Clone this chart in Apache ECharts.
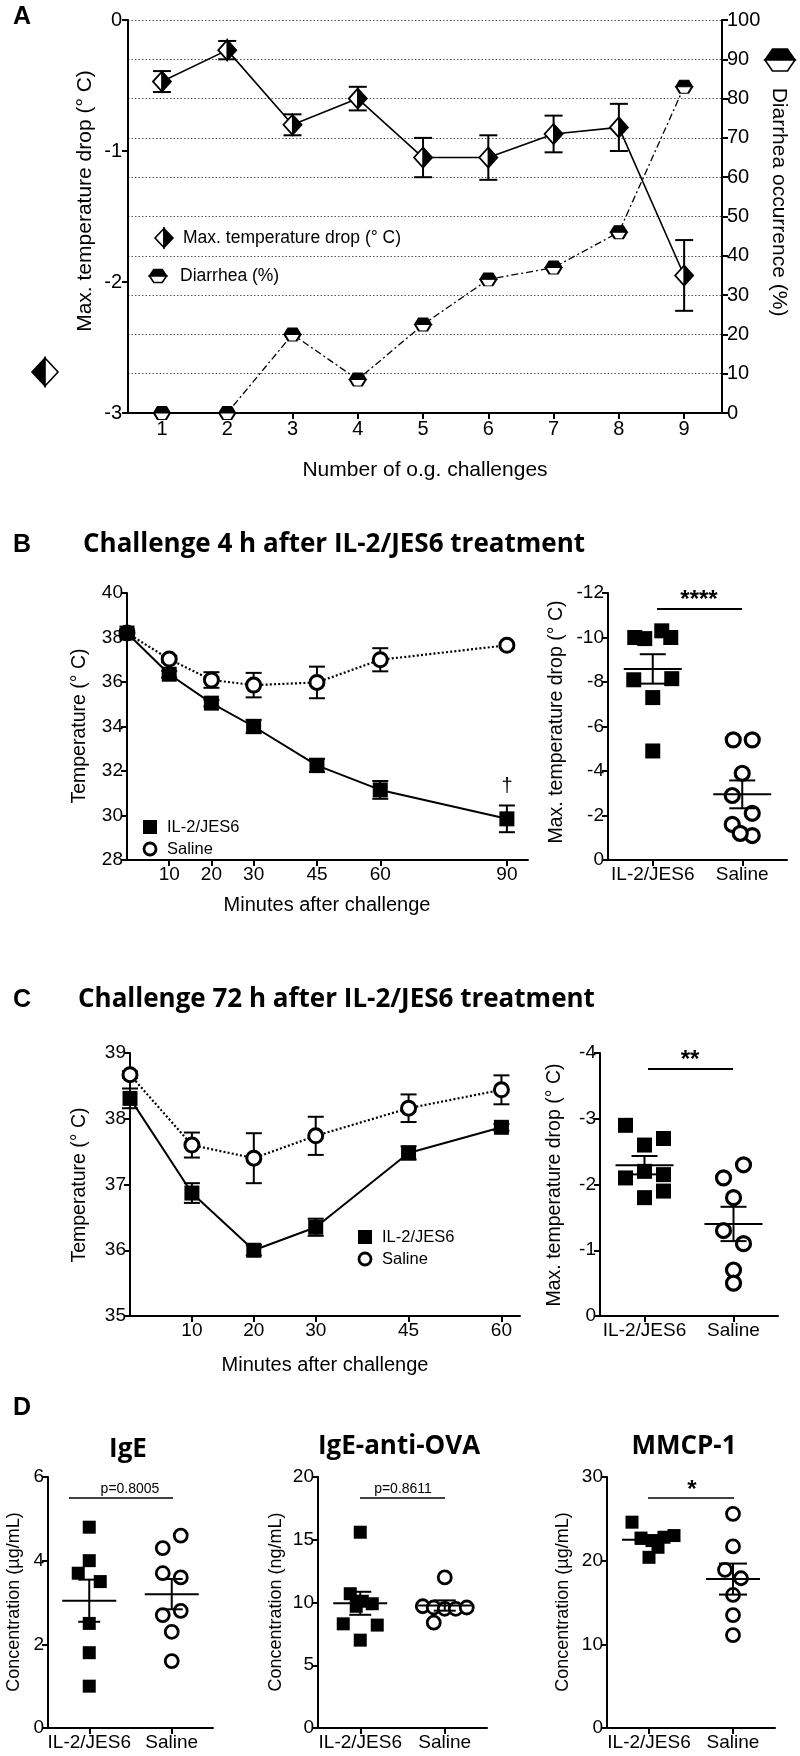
<!DOCTYPE html>
<html><head><meta charset="utf-8">
<script src="https://cdn.jsdelivr.net/npm/echarts@6/dist/echarts.min.js"></script>
<style>html,body{margin:0;padding:0;background:#fff}#c{width:800px;height:1756px}</style>
</head><body><div id="c"></div><script>
// ---------------- DATA ----------------
// Panel A
const aChallenges = [1, 2, 3, 4, 5, 6, 7, 8, 9];
const aTempDrop = [-0.47, -0.23, -0.80, -0.60, -1.05, -1.05, -0.87, -0.82, -1.95];
const aTempErr = [0.08, 0.07, 0.08, 0.09, 0.15, 0.17, 0.14, 0.18, 0.27];
const aDiarrhea = [0, 0, 20, 8.5, 22.5, 34, 37, 46, 83];
// Panel B
const bMinutes = [0, 10, 20, 30, 45, 60, 90];
const bMinuteTicks = [10, 20, 30, 45, 60, 90];
const bIL2 = [38.2, 36.35, 35.05, 34.0, 32.25, 31.15, 29.85];
const bIL2Err = [0.15, 0.15, 0.15, 0.3, 0.3, 0.4, 0.6];
const bSaline = [38.2, 37.03, 36.09, 35.86, 35.98, 37.0, 37.65];
const bSalineErr = [0.1, 0.15, 0.35, 0.55, 0.71, 0.52, 0.1];
const bDropIL2 = [-10.0, -9.95, -10.3, -10.0, -8.1, -8.15, -7.3, -4.9];
const bDropSaline = [-5.4, -5.4, -3.9, -2.9, -2.1, -1.6, -1.1, -1.2];
// Panel C
const cMinutes = [0, 10, 20, 30, 45, 60];
const cMinuteTicks = [10, 20, 30, 45, 60];
const cIL2 = [38.31, 36.87, 36.0, 36.35, 37.48, 37.87];
const cIL2Err = [0.15, 0.15, 0.08, 0.13, 0.1, 0.05];
const cSaline = [38.67, 37.6, 37.4, 37.74, 38.16, 38.44];
const cSalineErr = [0.05, 0.19, 0.38, 0.29, 0.21, 0.22];
const cDropIL2 = [-2.9, -2.6, -2.7, -2.1, -2.2, -2.15, -1.9, -1.8];
const cDropSaline = [-2.3, -2.1, -1.8, -1.3, -1.1, -0.7, -0.5];
// Panel D
const groups = ['IL-2/JES6', 'Saline'];
const igeIL2 = [4.8, 4.0, 3.7, 3.5, 2.5, 1.8, 1.0];
const igeSaline = [4.6, 4.3, 3.7, 3.6, 2.8, 2.7, 2.3, 1.6];
const ovaIL2 = [15.6, 10.7, 10.1, 9.9, 9.7, 8.3, 8.2, 7.0];
const ovaSaline = [12.0, 9.7, 9.6, 9.5, 9.5, 9.6, 8.4];
const mmcpIL2 = [24.6, 22.7, 22.4, 20.4, 21.6, 22.8, 23.0];
const mmcpSaline = [25.6, 21.7, 18.9, 17.9, 15.9, 13.5, 11.1];
// horizontal jitter of the column-scatter dots (pixels, layout only)
const jit = {
  bIL2: [-18, -8, 9, 18, -19, 19, 0, 0],
  bSal: [-9, 10, 0, -10, 10, -10, 10, -2],
  cIL2: [-19, 0, 19, -19, 0, 19, 19, 0],
  cSal: [10, -10, 0, -10, 10, 0, 0],
  igeIL2: [0, 0, -11, 11, 0, 0, 0],
  igeSal: [9, -9, -9, 9, 9, -9, 0, 0],
  ovaIL2: [0, -10, 2, 12, -4, -17, 17, 0],
  ovaSal: [0, -22, -11, 0, 11, 22, -11],
  mmcpIL2: [-17, -8, 3, 0, 9, 15, 25],
  mmcpSal: [0, 0, -8, 8, 0, 0, 0]
};

// ---------------- STYLE HELPERS ----------------
const FONT = '"Liberation Sans", Arial, sans-serif';
const TFONT = '"Open Sans", Lato, sans-serif';
const BLACK = '#000';

function valAxis(grid, o) {
  return Object.assign({
    type: 'value', gridIndex: grid, scale: false,
    axisLine: { show: true, onZero: false, lineStyle: { color: BLACK, width: 2 } },
    axisTick: { show: true, inside: false, length: 6, lineStyle: { color: BLACK, width: 2 } },
    axisLabel: { color: BLACK, fontFamily: FONT, fontSize: 19, margin: 4 },
    splitLine: { show: false }
  }, o);
}
function catAxis(grid) {
  return {
    type: 'category', gridIndex: grid, data: groups, boundaryGap: true,
    axisLine: { show: true, onZero: false, lineStyle: { color: BLACK, width: 2 } },
    axisTick: { show: true, alignWithLabel: true, length: 6, lineStyle: { color: BLACK, width: 2 } },
    axisLabel: { color: BLACK, fontFamily: FONT, fontSize: 19, margin: 5, interval: 0 },
    splitLine: { show: false }
  };
}
function errBars(xi, yi, xs, ys, es, cap, lw) {
  return {
    type: 'custom', xAxisIndex: xi, yAxisIndex: yi, z: 3, silent: true,
    data: xs.map((x, i) => [x, ys[i] - es[i], ys[i] + es[i]]),
    renderItem(p, api) {
      const lo = api.coord([api.value(0), api.value(1)]);
      const hi = api.coord([api.value(0), api.value(2)]);
      const s = { stroke: BLACK, lineWidth: lw };
      return { type: 'group', children: [
        { type: 'line', shape: { x1: lo[0], y1: lo[1], x2: hi[0], y2: hi[1] }, style: s },
        { type: 'line', shape: { x1: lo[0] - cap, y1: lo[1], x2: lo[0] + cap, y2: lo[1] }, style: s },
        { type: 'line', shape: { x1: hi[0] - cap, y1: hi[1], x2: hi[0] + cap, y2: hi[1] }, style: s }
      ] };
    }
  };
}
function meanSem(xi, yi, sets, half, cap) {
  const data = sets.map((v, k) => {
    const n = v.length, m = v.reduce((a, b) => a + b, 0) / n;
    const sd = Math.sqrt(v.reduce((a, b) => a + (b - m) * (b - m), 0) / (n - 1));
    const se = sd / Math.sqrt(n);
    return [k, m, m - se, m + se];
  });
  return {
    type: 'custom', xAxisIndex: xi, yAxisIndex: yi, z: 6, silent: true, data,
    renderItem(p, api) {
      const c = api.coord([api.value(0), api.value(1)]);
      const lo = api.coord([api.value(0), api.value(2)]);
      const hi = api.coord([api.value(0), api.value(3)]);
      const s = { stroke: BLACK, lineWidth: 2 };
      return { type: 'group', children: [
        { type: 'line', shape: { x1: c[0] - half, y1: c[1], x2: c[0] + half, y2: c[1] }, style: s },
        { type: 'line', shape: { x1: lo[0], y1: lo[1], x2: hi[0], y2: hi[1] }, style: s },
        { type: 'line', shape: { x1: lo[0] - cap, y1: lo[1], x2: lo[0] + cap, y2: lo[1] }, style: s },
        { type: 'line', shape: { x1: hi[0] - cap, y1: hi[1], x2: hi[0] + cap, y2: hi[1] }, style: s }
      ] };
    }
  };
}
function dots(xi, yi, cat, vals, offs, filled, size, bw) {
  return {
    type: 'scatter', xAxisIndex: xi, yAxisIndex: yi, z: 5, silent: true,
    symbol: filled ? 'rect' : 'circle', symbolSize: size,
    itemStyle: filled ? { color: BLACK, opacity: 1 } : { color: '#fff', borderColor: BLACK, borderWidth: bw, opacity: 1 },
    data: vals.map((v, i) => ({ value: [cat, v], symbolOffset: [offs[i], 0] }))
  };
}
function tempLine(xi, yi, xs, ys, filled, dotted) {
  return {
    type: 'line', xAxisIndex: xi, yAxisIndex: yi, z: 4, silent: true,
    data: xs.map((x, i) => [x, ys[i]]),
    symbol: filled ? 'rect' : 'circle', symbolSize: filled ? 15 : 14, showSymbol: true,
    itemStyle: filled ? { color: BLACK, opacity: 1 } : { color: '#fff', borderColor: BLACK, borderWidth: 3, opacity: 1 },
    lineStyle: { color: BLACK, width: dotted ? 2.2 : 2, type: dotted ? [2, 2.2] : 'solid' }
  };
}

// ---------------- GRAPHIC HELPERS ----------------
function txt(x, y, s, font, align, rot, valign) {
  return { type: 'text', x, y, rotation: rot || 0, silent: true, z: 100,
    style: { text: s, fill: BLACK, font, textAlign: align || 'center', textVerticalAlign: valign || 'middle' } };
}
function seg(x1, y1, x2, y2, w) {
  return { type: 'line', silent: true, z: 100, shape: { x1, y1, x2, y2 }, style: { stroke: BLACK, lineWidth: w || 1.6 } };
}
function poly(points, fill) {
  return { type: 'polygon', silent: true, z: 100, shape: { points }, style: { fill, stroke: BLACK, lineWidth: 1.6 } };
}
function diamondIcon(cx, cy, w, h, lf, rf) {
  return [poly([[cx, cy - h / 2], [cx - w / 2, cy], [cx, cy + h / 2]], lf),
          poly([[cx, cy - h / 2], [cx + w / 2, cy], [cx, cy + h / 2]], rf)];
}
function hexIcon(cx, cy, w, h, tf, bf) {
  return [poly([[cx - w / 2, cy], [cx - w / 4, cy - h / 2], [cx + w / 4, cy - h / 2], [cx + w / 2, cy]], tf),
          poly([[cx - w / 2, cy], [cx + w / 2, cy], [cx + w / 4, cy + h / 2], [cx - w / 4, cy + h / 2]], bf)];
}

const F = (px, bold, fam) => (bold ? 'bold ' : '') + px + 'px ' + (fam || FONT);
const gfx = [];
// panel letters
gfx.push(txt(22, 17, 'A', F(25, true), 'center'));
gfx.push(txt(22, 545, 'B', F(25, true), 'center'));
gfx.push(txt(22, 1000, 'C', F(25, true), 'center'));
gfx.push(txt(22, 1408, 'D', F(25, true), 'center'));
// panel A titles / icons / legend
gfx.push(txt(85, 201, 'Max. temperature drop (° C)', F(21), 'center', Math.PI / 2));
gfx.push(...diamondIcon(45, 372, 26, 28, BLACK, '#fff'));
gfx.push(txt(779, 202, 'Diarrhea occurrence (%)', F(21), 'center', -Math.PI / 2));
gfx.push(...hexIcon(780, 60, 30, 22, BLACK, '#fff'));
gfx.push(txt(425, 470, 'Number of o.g. challenges', F(21), 'center'));
gfx.push(...diamondIcon(164, 238, 18, 19, '#fff', BLACK));
gfx.push(txt(183, 238, 'Max. temperature drop (° C)', F(17.5), 'left'));
gfx.push(...hexIcon(158, 276, 17, 13, BLACK, '#fff'));
gfx.push(txt(180, 276, 'Diarrhea (%)', F(17.5), 'left'));
// panel B
gfx.push(txt(83, 545, 'Challenge 4 h after IL-2/JES6 treatment', F(26, true, TFONT), 'left'));
gfx.push(txt(80, 726, 'Temperature (° C)', F(19.5), 'center', Math.PI / 2));
gfx.push(txt(327, 905, 'Minutes after challenge', F(20), 'center'));
gfx.push({ type: 'rect', silent: true, z: 100, shape: { x: 143, y: 820, width: 14, height: 14 }, style: { fill: BLACK } });
gfx.push(txt(167, 827, 'IL-2/JES6', F(16.5), 'left'));
gfx.push({ type: 'circle', silent: true, z: 100, shape: { cx: 150, cy: 849, r: 6 }, style: { fill: '#fff', stroke: BLACK, lineWidth: 2.8 } });
gfx.push(txt(167, 849, 'Saline', F(16.5), 'left'));
gfx.push(txt(507, 786, '†', F(20), 'center'));
gfx.push(txt(557, 722, 'Max. temperature drop (° C)', F(19.5), 'center', Math.PI / 2));
gfx.push(seg(657, 609, 742, 609, 1.8));
gfx.push(txt(699, 600, '****', F(24, true), 'center'));
// panel C
gfx.push(txt(78, 1000, 'Challenge 72 h after IL-2/JES6 treatment', F(26, true, TFONT), 'left'));
gfx.push(txt(80, 1185, 'Temperature (° C)', F(19.5), 'center', Math.PI / 2));
gfx.push(txt(325, 1365, 'Minutes after challenge', F(20), 'center'));
gfx.push({ type: 'rect', silent: true, z: 100, shape: { x: 358, y: 1230, width: 14, height: 14 }, style: { fill: BLACK } });
gfx.push(txt(382, 1237, 'IL-2/JES6', F(16.5), 'left'));
gfx.push({ type: 'circle', silent: true, z: 100, shape: { cx: 365, cy: 1259, r: 6 }, style: { fill: '#fff', stroke: BLACK, lineWidth: 2.8 } });
gfx.push(txt(382, 1259, 'Saline', F(16.5), 'left'));
gfx.push(txt(555, 1185, 'Max. temperature drop (° C)', F(19.5), 'center', Math.PI / 2));
gfx.push(seg(648, 1069, 733, 1069, 1.8));
gfx.push(txt(690, 1060, '**', F(24, true), 'center'));
// panel D
gfx.push(txt(128, 1450, 'IgE', F(26, true, TFONT), 'center'));
gfx.push(txt(399, 1447, 'IgE-anti-OVA', F(26, true, TFONT), 'center'));
gfx.push(txt(684, 1447, 'MMCP-1', F(26, true, TFONT), 'center'));
gfx.push(txt(14, 1602, 'Concentration (µg/mL)', F(18), 'center', Math.PI / 2));
gfx.push(txt(276, 1602, 'Concentration (ng/mL)', F(18), 'center', Math.PI / 2));
gfx.push(txt(563, 1602, 'Concentration (µg/mL)', F(18), 'center', Math.PI / 2));
gfx.push(seg(69, 1498, 173, 1498, 1.5));
gfx.push(txt(130, 1489, 'p=0.8005', F(14), 'center'));
gfx.push(seg(360, 1498, 445, 1498, 1.5));
gfx.push(txt(403, 1489, 'p=0.8611', F(14), 'center'));
gfx.push(seg(648, 1498, 734, 1498, 1.5));
gfx.push(txt(692, 1490, '*', F(24, true), 'center'));

// ---------------- OPTION ----------------
const grids = [
  { left: 128, top: 20, width: 594, height: 393 },     // A
  { left: 127, top: 593, width: 401, height: 267 },    // B left
  { left: 608, top: 593, width: 179, height: 267 },    // B right
  { left: 130, top: 1053, width: 390, height: 263 },   // C left
  { left: 600, top: 1053, width: 178, height: 263 },   // C right
  { left: 48, top: 1477, width: 165, height: 251 },    // D1
  { left: 318, top: 1477, width: 169, height: 251 },   // D2
  { left: 607, top: 1477, width: 168, height: 251 }    // D3
];

const xAxes = [
  valAxis(0, { min: 0.48, max: 9.58,
    axisTick: { show: true, length: 6, customValues: aChallenges, lineStyle: { color: BLACK, width: 2 } },
    axisLabel: { color: BLACK, fontFamily: FONT, fontSize: 20, margin: 6, customValues: aChallenges } }),
  valAxis(1, { min: 0, max: 95,
    axisTick: { show: true, length: 6, customValues: bMinuteTicks, lineStyle: { color: BLACK, width: 2 } },
    axisLabel: { color: BLACK, fontFamily: FONT, fontSize: 19, margin: 5, customValues: bMinuteTicks } }),
  catAxis(2),
  valAxis(3, { min: 0, max: 63,
    axisTick: { show: true, length: 6, customValues: cMinuteTicks, lineStyle: { color: BLACK, width: 2 } },
    axisLabel: { color: BLACK, fontFamily: FONT, fontSize: 19, margin: 5, customValues: cMinuteTicks } }),
  catAxis(4), catAxis(5), catAxis(6), catAxis(7)
];
const yAxes = [
  valAxis(0, { min: -3, max: 0, interval: 1, axisLabel: { color: BLACK, fontFamily: FONT, fontSize: 20, margin: 6 } }),
  valAxis(0, { min: 0, max: 100, interval: 10, position: 'right',
    axisLabel: { color: BLACK, fontFamily: FONT, fontSize: 20, margin: 5 },
    splitLine: { show: true, lineStyle: { color: '#555', width: 1.2, type: [1.5, 2] } } }),
  valAxis(1, { min: 28, max: 40, interval: 2 }),
  valAxis(2, { min: -12, max: 0, interval: 2, inverse: true }),
  valAxis(3, { min: 35, max: 39, interval: 1 }),
  valAxis(4, { min: -4, max: 0, interval: 1, inverse: true }),
  valAxis(5, { min: 0, max: 6, interval: 2 }),
  valAxis(6, { min: 0, max: 20, interval: 5 }),
  valAxis(7, { min: 0, max: 30, interval: 10 })
];

const series = [
  // A: temperature drop
  { type: 'line', xAxisIndex: 0, yAxisIndex: 0, z: 2, silent: true, showSymbol: false, symbol: 'none',
    data: aChallenges.map((x, i) => [x, aTempDrop[i]]), lineStyle: { color: BLACK, width: 1.6 } },
  errBars(0, 0, aChallenges, aTempDrop, aTempErr, 9, 2),
  { type: 'scatter', xAxisIndex: 0, yAxisIndex: 0, z: 5, silent: true,
    symbol: 'path://M1,0 L0,1 L1,2 Z', symbolSize: [9, 20], symbolOffset: [-4.5, 0],
    itemStyle: { color: '#fff', borderColor: BLACK, borderWidth: 1.6, opacity: 1 },
    data: aChallenges.map((x, i) => [x, aTempDrop[i]]) },
  { type: 'scatter', xAxisIndex: 0, yAxisIndex: 0, z: 5, silent: true,
    symbol: 'path://M0,0 L1,1 L0,2 Z', symbolSize: [9, 20], symbolOffset: [4.5, 0],
    itemStyle: { color: BLACK, borderColor: BLACK, borderWidth: 1.6, opacity: 1 },
    data: aChallenges.map((x, i) => [x, aTempDrop[i]]) },
  // A: diarrhea
  { type: 'line', xAxisIndex: 0, yAxisIndex: 1, z: 2, silent: true, showSymbol: false, symbol: 'none',
    data: aChallenges.map((x, i) => [x, aDiarrhea[i]]), lineStyle: { color: BLACK, width: 1.3, type: [7, 3, 2, 3] } },
  { type: 'scatter', xAxisIndex: 0, yAxisIndex: 1, z: 5, silent: true,
    symbol: 'path://M0,1 L1,0 L3,0 L4,1 Z', symbolSize: [16, 6.5], symbolOffset: [0, -3.25],
    itemStyle: { color: BLACK, borderColor: BLACK, borderWidth: 1.5, opacity: 1 },
    data: aChallenges.map((x, i) => [x, aDiarrhea[i]]) },
  { type: 'scatter', xAxisIndex: 0, yAxisIndex: 1, z: 5, silent: true,
    symbol: 'path://M0,0 L4,0 L3,1 L1,1 Z', symbolSize: [16, 6.5], symbolOffset: [0, 3.25],
    itemStyle: { color: '#fff', borderColor: BLACK, borderWidth: 1.5, opacity: 1 },
    data: aChallenges.map((x, i) => [x, aDiarrhea[i]]) },
  // B left
  errBars(1, 2, bMinutes, bSaline, bSalineErr, 8, 2),
  errBars(1, 2, bMinutes, bIL2, bIL2Err, 8, 2),
  tempLine(1, 2, bMinutes, bSaline, false, true),
  tempLine(1, 2, bMinutes, bIL2, true, false),
  // B right
  dots(2, 3, 0, bDropIL2, jit.bIL2, true, 15),
  dots(2, 3, 1, bDropSaline, jit.bSal, false, 14, 3.2),
  meanSem(2, 3, [bDropIL2, bDropSaline], 29, 13),
  // C left
  errBars(3, 4, cMinutes, cSaline, cSalineErr, 8, 2),
  errBars(3, 4, cMinutes, cIL2, cIL2Err, 8, 2),
  tempLine(3, 4, cMinutes, cSaline, false, true),
  tempLine(3, 4, cMinutes, cIL2, true, false),
  // C right
  dots(4, 5, 0, cDropIL2, jit.cIL2, true, 15),
  dots(4, 5, 1, cDropSaline, jit.cSal, false, 14, 3.2),
  meanSem(4, 5, [cDropIL2, cDropSaline], 29, 13),
  // D
  dots(5, 6, 0, igeIL2, jit.igeIL2, true, 13),
  dots(5, 6, 1, igeSaline, jit.igeSal, false, 13, 2.8),
  meanSem(5, 6, [igeIL2, igeSaline], 27, 11),
  dots(6, 7, 0, ovaIL2, jit.ovaIL2, true, 13),
  dots(6, 7, 1, ovaSaline, jit.ovaSal, false, 13, 2.8),
  meanSem(6, 7, [ovaIL2, ovaSaline], 27, 11),
  dots(7, 8, 0, mmcpIL2, jit.mmcpIL2, true, 13),
  dots(7, 8, 1, mmcpSaline, jit.mmcpSal, false, 13, 2.8),
  meanSem(7, 8, [mmcpIL2, mmcpSaline], 27, 14)
];

const chart = echarts.init(document.getElementById('c'), null, { renderer: 'canvas', width: 800, height: 1756 });
chart.setOption({
  animation: false,
  backgroundColor: '#fff',
  grid: grids,
  xAxis: xAxes,
  yAxis: yAxes,
  series,
  graphic: { elements: gfx }
});
</script></body></html>
